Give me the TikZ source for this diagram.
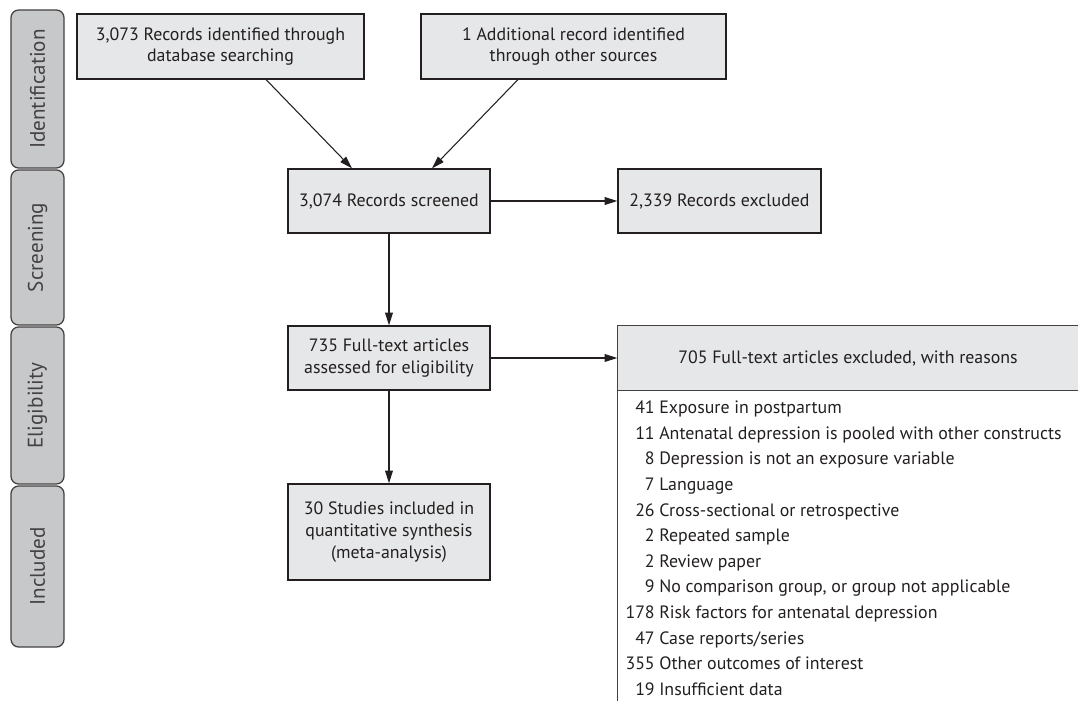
\documentclass[tikz,border=0pt]{standalone}
\usepackage{fontspec}
\setmainfont{PT Sans}
\usetikzlibrary{arrows.meta}
\definecolor{boxgray}{HTML}{E6E7E8}
\definecolor{tabgray}{HTML}{C7C8CA}
\definecolor{ink}{HTML}{231F20}

\begin{document}
\begin{tikzpicture}[x=0.025cm,y=-0.025cm]
  \tikzstyle{box} = [draw=ink,fill=boxgray,line width=0.9pt,align=center,
    text=ink,inner sep=0pt,font=\fontsize{12.7}{15.4}\selectfont]
  \tikzstyle{tab} = [draw=ink!85,fill=tabgray,line width=0.9pt,rounded corners=5.5pt,
    rotate=90,minimum height=37.7pt,inner sep=0pt,text=ink!85,
    font=\fontsize{15}{18}\selectfont]
  \tikzstyle{arr} = [draw=ink,line width=0.75pt,-{Triangle[length=9pt,width=5.5pt]}]
  \tikzstyle{why} = [inner sep=0pt,text=ink,font=\fontsize{12.7}{15.4}\selectfont]
  \useasboundingbox (0,0) rectangle (1078,701);

  % phase tabs
  \foreach \n/\y/\h/\t in {ident/89/112.4/Identification, screen/247.5/110.3/Screening,
    elig/405.5/111.7/Eligibility, incl/566.5/114.5/Included} {
    \node[tab,minimum width=\h pt] (\n) at (37.5,\y) {\t};
  }

  % flow boxes
  \node[box,minimum width=204.1pt,minimum height=46.2pt] (dbase) at (220.5,46.5)
    {3,073 Records identified through\\database searching};
  \node[box,minimum width=217pt,minimum height=46.2pt] (other) at (573.5,46.5)
    {1 Additional record identified\\through other sources};
  \node[box,minimum width=143.7pt,minimum height=45.5pt] (screened) at (389,201)
    {3,074 Records screened};
  \node[box,minimum width=144.4pt,minimum height=45.5pt] (recexcl) at (719.5,201)
    {2,339 Records excluded};
  \node[box,minimum width=143.7pt,minimum height=45.5pt] (fulltext) at (389,358)
    {735 Full-text articles\\assessed for eligibility};
  \node[box,minimum width=143.7pt,minimum height=68.3pt] (studies) at (389,532)
    {30 Studies included in\\quantitative synthesis\\(meta-analysis)};
  \node[box,draw=none,minimum width=327.2pt,minimum height=45.5pt] (ftexcl) at (848,358)
    {705 Full-text articles excluded, with reasons};
  \draw[ink!85,line width=0.9pt] (ftexcl.north east) -- (ftexcl.north west) -- (ftexcl.west |- 0,701);
  \draw[ink!85,line width=0.9pt] (ftexcl.south west) -- (ftexcl.south east);

  % reasons
  \foreach \i/\n/\t in {0/41/Exposure in postpartum, 1/11/Antenatal depression is pooled with other constructs,
    2/8/Depression is not an exposure variable, 3/7/Language, 4/26/Cross-sectional or retrospective,
    5/2/Repeated sample, 6/2/Review paper, 7/9/{No comparison group, or group not applicable},
    8/178/Risk factors for antenatal depression, 9/47/{Case reports/series},
    10/355/Other outcomes of interest, 11/19/Insufficient data} {
    \node[why,anchor=base east] (num\i) at (655,413.5+25.64*\i) {\n};
    \node[why,anchor=base west] (why\i) at (659,413.5+25.64*\i) {\t};
  }

  \draw[arr] ([xshift=32.4pt]dbase.south) -- ([xshift=-26.3pt]screened.north);
  \draw[arr] ([xshift=-39.5pt]other.south) -- ([xshift=30.6pt]screened.north);
  \draw[arr] (screened) -- (recexcl);
  \draw[arr] (screened) -- (fulltext);
  \draw[arr] (fulltext) -- (ftexcl.west);
  \draw[arr] (fulltext) -- (studies);
\end{tikzpicture}
\end{document}
